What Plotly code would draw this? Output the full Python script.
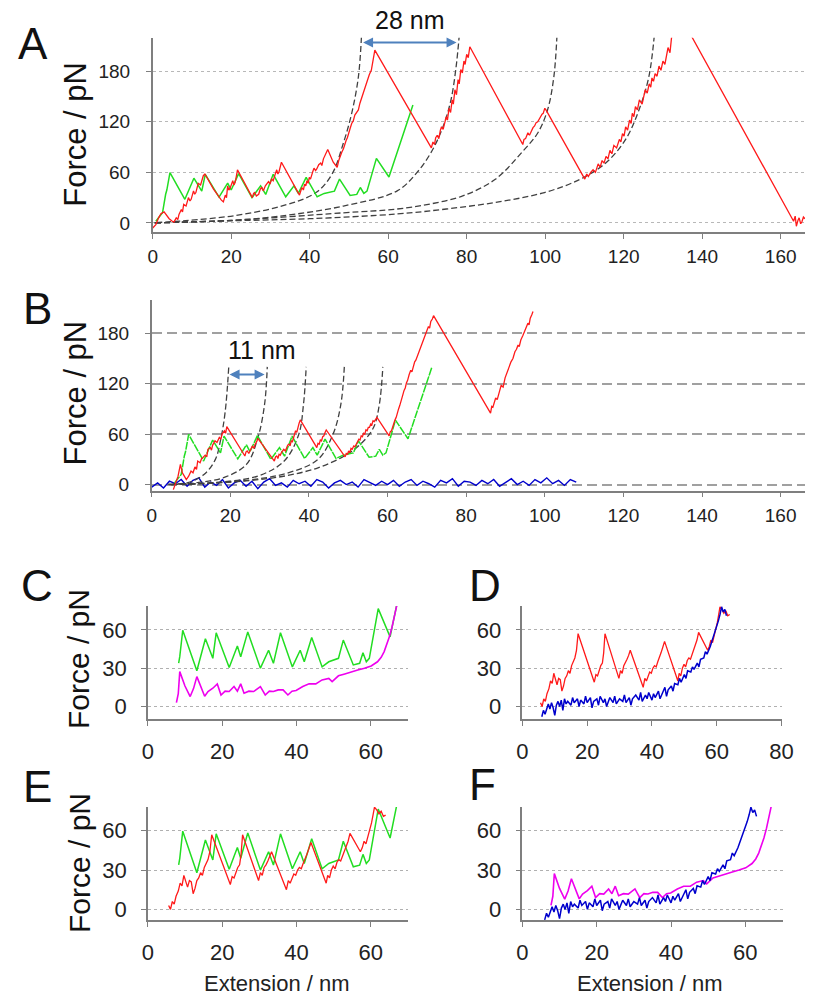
import plotly.graph_objects as go

W, H = 817, 1002

# ---------------- Panel A ----------------
redA_x = [0, 0.8, 1.5, 2.1, 2.9, 3.5, 4.2, 5.0, 5.4, 6.0, 6.4, 6.7, 7.3, 7.6, 7.9, 8.5, 9.1, 9.5, 9.8, 10.4, 10.7,
          11.0, 11.6, 12.2, 12.5, 12.9, 13.3,
          15.5, 17.5, 18.0, 18.5, 18.8, 19.1, 19.4, 19.7, 20.1, 20.4, 20.7, 21.0, 21.3, 21.6,
          25.4, 25.7, 26.0, 26.4, 27.0, 27.4, 27.8, 28.2, 28.7, 29.1, 29.5, 29.9, 30.3, 30.7, 31.0, 31.3, 31.6, 31.9,
          32.2, 32.5, 32.8,
          37.4, 37.7, 38.0, 38.4, 38.7, 39.0, 39.3, 39.6, 39.9, 40.2, 40.5, 40.8, 41.1, 41.5, 41.8, 42.3, 42.8, 43.1,
          43.5, 43.9, 44.3, 44.6,
          46.0, 47.0, 47.4, 47.8, 48.2, 48.6, 48.9, 49.3, 49.6, 49.9, 50.3, 50.7, 51.1, 51.5, 52.0, 52.4, 52.8, 53.2,
          53.6, 54.0, 54.4, 54.8, 55.2, 55.7, 55.9, 56.2, 56.6,
          71.0, 71.4, 71.8, 72.1, 72.5, 72.9, 73.3, 73.6, 74.0, 74.4, 74.8, 75.1, 75.5, 75.9, 76.3, 76.6, 77.0, 77.4,
          77.8, 78.1, 78.5, 78.9, 79.3, 79.6, 80.0, 80.4, 80.8,
          94.3, 94.6, 95.0, 95.3, 95.6, 96.0, 96.5, 96.9, 97.3, 97.7, 98.1, 98.5, 98.9, 99.2, 99.5, 99.9, 100.2,
          110.1, 110.6, 111.0, 111.6, 112.2, 112.8, 113.5, 114.0, 114.5, 115.0, 115.5, 116.0, 116.5, 117.0, 117.5,
          118.2, 118.9, 119.3, 119.7, 120.1, 120.5, 121.0, 121.5, 121.9, 122.2, 122.6, 123.0, 123.5, 124.0, 124.7,
          125.5, 126.0, 126.5, 126.9, 127.2, 127.6, 128.0, 128.5, 129.0, 129.5, 130.0, 130.5, 130.9, 131.3, 131.8,
          132.2, 134.5,
          163.3, 163.7, 164.0, 164.4, 164.7, 165.1, 165.4, 165.8, 166.2]
redA_y = [-6, -2, 6, 11, 13, 9, 5, 2, 1, 6, 4, 10, 16, 13, 22, 20, 30, 26, 28, 38, 34,
          36, 47, 45, 51, 56, 58,
          40, 27, 25, 33, 30, 44, 39, 41, 47, 50, 45, 48, 55, 63,
          30, 35, 36, 32, 34, 40, 42, 38, 44, 47, 49, 46, 52, 50, 56, 59, 63, 58,
          61, 66, 72,
          33, 38, 42, 39, 46, 44, 50, 47, 54, 52, 58, 61, 65, 62, 64, 69, 71, 68,
          76, 80, 85, 87,
          72, 66, 74, 80, 84, 88, 93, 98, 101, 107, 112, 118, 121, 128, 131, 134, 142, 148,
          152, 158, 165, 170, 176, 181, 186, 192, 205,
          89, 96, 93, 101, 104, 100, 110, 114, 111, 119, 126, 122, 136, 131, 146, 141, 158, 152,
          170, 165, 182, 178, 192, 188, 200, 196, 209,
          93, 99, 100, 105, 107, 104, 110, 113, 115, 119, 120, 124, 126, 129, 130, 136, 134,
          52, 58, 55, 60, 63, 60, 70, 66, 74, 71, 79, 76, 86, 82, 92,
          89, 99, 96, 106, 103, 114, 110, 122, 118, 130, 126, 138, 134, 146, 141,
          158, 154, 165, 161, 172, 168, 177, 174, 186, 181, 192, 188, 197, 208, 202,
          220, 245,
          2, 8, -4, 3, 6, -1, 1, 7, 5]

# green trace (shared by B, C, E; shifted in A)
green_start_x = [5.8, 7.5]
green_start_y = [2, 12]
green_x = [8.3, 8.6, 9.4, 13.2, 15.5, 17.5, 18.4, 21.9, 24.1, 25.0, 26.9, 30.3, 32.5, 33.8, 35.7, 38.9, 41.0,
           42.1, 44.1, 46.9, 48.7, 51.3, 52.6, 55.3, 57.0, 57.9, 58.8, 59.6, 62.0, 65.2, 71.3]
green_y = [34, 39, 59.7, 28, 53, 37.7, 57.7, 30.6, 47.3, 39, 58.4, 30, 44, 33.8, 57.7, 31, 44,
           35, 54, 31, 35, 37.7, 52, 32.5, 33.8, 42, 35, 37.7, 76.6, 54.5, 140]
greenA_offset = 5.0

wlcA1_x = [0.8, 8.3, 20.8, 33.2, 41.6, 45.7, 48.6, 50.7, 52.4, 53.2]
wlcA1_y = [0.3, 2.7, 8.6, 20.4, 36, 58, 95, 130, 173, 222]
wlcA2_x = [0.5, 20, 32, 48.6, 62.3, 67.3, 71.1, 74.0, 76.0, 77.3, 78.1]
wlcA2_y = [0, 3, 7.8, 20, 38, 59.6, 85, 114.5, 146, 185, 222]
wlcA3_x = [0.5, 20, 48.6, 62.3, 70.7, 79.0, 87.3, 94.3, 98.1, 100.6, 102.2, 103.0]
wlcA3_y = [0, 3, 12, 16.5, 22.4, 32, 51.8, 85, 106.7, 134, 173, 222]
wlcA4_x = [0.5, 20, 40, 62.3, 74.8, 87.3, 99.8, 108.9, 115.5, 120.5, 123.9, 126.4, 127.8]
wlcA4_y = [0, 2.5, 5, 10.6, 16.5, 24.3, 36, 51.8, 71.4, 99, 134, 173, 222]

# ---------------- Panel B ----------------
redB_x = [5.5, 6.2, 6.7, 7.3, 7.8, 8.3, 8.8, 9.4, 10.0, 10.5, 11.0, 11.4, 11.7, 12.3, 12.7, 13.0, 13.6, 14.0, 14.3,
          14.9, 15.2, 15.5, 16.1, 16.6, 17.2, 17.6, 17.9, 18.5, 18.8, 19.1,
          23.7, 24.0, 24.3, 24.7, 25.0, 25.3, 25.6, 26.0, 26.3, 26.7, 27.0,
          31.2, 31.5, 31.8, 32.1, 32.4, 32.7, 33.0, 33.3, 33.6, 34.0, 34.3, 34.6, 34.9, 35.2, 35.5, 35.8, 36.1,
          36.4, 36.6, 36.9, 37.2, 37.5, 37.8,
          42.0, 42.3, 42.6, 42.9, 43.2, 43.5, 43.8, 44.1, 44.4,
          49.2, 49.5, 49.8, 50.1, 50.4, 50.7, 51.0, 51.4, 51.7, 52.0, 52.3, 52.7, 53.0, 53.3, 53.6, 53.9, 54.2,
          54.5, 54.8, 55.1, 55.4, 55.7, 56.0, 56.3, 56.6, 57.0, 57.3,
          60.4, 60.7, 61.0, 61.3, 61.6, 61.9, 62.2, 62.5, 62.8, 63.1, 63.4, 63.6, 63.9, 64.2, 64.5, 64.8, 65.1,
          65.5, 65.9, 66.2, 66.5, 66.9, 67.2, 67.5, 67.8, 68.2, 68.5, 68.9, 69.2, 69.5, 69.8, 70.1, 70.4, 70.7,
          71.0, 71.4, 71.7,
          86.2, 86.5, 86.8, 87.2, 87.5, 87.9, 88.2, 88.6, 88.9, 89.4, 89.9, 90.2, 90.6, 91.0, 91.4, 91.9, 92.4,
          92.8, 93.2, 93.5, 93.9, 94.4, 94.9, 95.3, 95.7, 96.0, 96.3, 96.7, 97.0]
redB_y = [-6, 4, 10, 24, 14, 10, 6, 10, 16, 14, 21, 18, 28, 26, 31, 32, 35, 33, 42,
          44, 41, 47, 52, 50, 56, 54, 60, 64, 61, 69,
          34, 39, 40, 37, 40, 44, 46, 43, 48, 51, 55,
          28, 33, 34, 31, 36, 35, 38, 41, 42, 40, 44, 47, 48, 46, 52, 51, 56,
          60, 64, 62, 70, 73, 77,
          44, 49, 48, 53, 52, 57, 58, 62, 65,
          33, 37, 36, 40, 38, 43, 42, 46, 45, 48, 50, 54, 53, 58, 57, 61, 60,
          65, 64, 68, 68, 72, 71, 76, 75, 79, 80,
          58, 63, 64, 69, 72, 77, 80, 86, 90, 94, 98, 103, 107, 112, 115, 121, 124,
          131, 136, 134, 140, 146, 148, 152, 156, 161, 164, 169, 172, 176, 180, 184, 188, 186,
          194, 197, 201,
          85, 93, 92, 99, 103, 101, 108, 113, 118, 116, 127, 131, 134, 141, 146, 150, 158,
          161, 166, 164, 172, 177, 182, 186, 192, 190, 198, 202, 206]

blueB_x = [0, 1.5, 3, 4.5, 6, 7.5, 9, 10.5, 12, 13.5, 15, 16.5, 18, 19.5, 21, 22.5, 24, 25.5, 27, 28.5, 30,
           31.5, 33, 34.5, 36, 37.5, 39, 40.5, 42, 43.5, 45, 46.5, 48, 49.5, 51, 52.5, 54, 55.5, 57, 58.5, 60,
           61.5, 63, 64.5, 66, 67.5, 69, 70.5, 72, 73.5, 75, 76.5, 78, 79.5, 81, 82.5, 84, 85.5, 87, 88.5, 90,
           91.5, 93, 94.5, 96, 97.5, 99, 100.5, 102, 103.5, 105, 106.5, 108]
blueB_y = [-3, 2, -4, 4, 1, 6, -2, 5, 8, -3, 3, -1, 6, -4, 2, 5, -2, 4, -5, 3, 7,
           -1, 2, -3, 5, 1, 4, -2, 6, 3, -4, 2, 5, 0, 3, -3, 6, 2, -1, 4, 0,
           5, -2, 3, 6, -1, 4, 1, -3, 5, 2, 7, -2, 4, 3, -1, 5, 1, 6, -2, 3,
           7, 0, 4, -1, 6, 2, 8, 1, 5, -1, 6, 3]

wlcB1_x = [4.2, 9.2, 13.3, 16.2, 17.6, 18.7, 19.6]
wlcB1_y = [0.4, 2.4, 12, 30, 55, 87, 140]
wlcB2_x = [4.5, 11.7, 18.3, 24.1, 27.0, 28.7, 29.4]
wlcB2_y = [0, 2.4, 8.3, 24, 55.7, 95, 140]
wlcB3_x = [5, 16.3, 27.1, 33.7, 37.4, 38.6, 39.3]
wlcB3_y = [0, 2.4, 10.3, 28, 59.6, 95, 140]
wlcB4_x = [5, 11.7, 24.1, 34.9, 42.3, 46.1, 48.1, 49.0]
wlcB4_y = [0, 1, 5, 14.2, 30, 59.6, 95, 140]
wlcB5_x = [5, 11.7, 24.1, 34.0, 42.3, 49.0, 53.1, 56.4, 57.9, 58.8]
wlcB5_y = [0, 1, 4.4, 10.3, 20, 34, 48, 67.5, 95, 140]

# ---------------- Panels C-F ----------------
pink_x = [7.7, 8.2, 8.6, 10.0, 11.4, 12.3, 13.2, 14.5, 15.3, 16.2, 17.5, 18.7, 19.7, 20.8, 21.9, 23.2, 24.1, 25.0,
          25.9, 27.2, 28.5, 30.3, 31.6, 32.7, 33.8, 35.1, 36.4, 37.7, 38.8, 39.9, 41.7, 43.4, 45.2, 46.9,
          48.7, 49.6, 51.3, 53.0, 54.8, 56.5, 58.3, 60.1, 61.8, 62.8, 63.6, 64.3, 65.0, 65.7, 66.2, 67.1]
pink_y = [3, 10, 27.3, 16, 7.8, 14, 23.4, 13, 8, 11.7, 14.3, 17.7, 9, 12, 11.7, 15.6, 12, 17.7,
          10.4, 12, 11.7, 15.6, 9, 12, 11.7, 13, 13, 9, 12, 12.5, 15.6, 17.7, 17.7, 20.8,
          22, 19.5, 24, 25.5, 27.3, 28.5, 30, 31.7, 35, 38.5, 43, 48, 54.5, 62, 70, 80.5]

redD_x = [5.6, 6.1, 6.6, 7.1, 7.6, 8.2, 8.7, 9.2, 9.7, 10.2, 10.7, 11.2, 11.7, 12.2, 12.7, 13.2, 13.7, 14.2, 14.7,
          15.2, 15.7, 16.2, 16.7, 17.2,
          22.2, 22.7, 23.2, 23.7, 24.2, 24.7, 25.1, 25.5,
          29.8, 30.3, 30.8, 31.3, 31.8, 32.3, 32.8, 33.3,
          37.3, 37.8, 38.3, 38.8, 39.3, 39.8, 40.3, 40.8, 41.3, 41.8, 42.3, 42.8, 43.3, 43.9,
          48.0, 48.4, 48.9, 49.4, 49.9, 50.4, 50.9, 51.4, 51.9, 52.4, 52.9, 53.4, 53.9, 54.4,
          57.2, 57.7, 58.2, 58.7, 59.2, 59.7, 60.2, 60.6, 61.0, 61.6, 62.2, 62.8, 63.4, 64.0]
redD_y = [3, 0, 6, 4, 10, 14, 20, 18, 26, 22, 17, 22, 21, 12, 16, 22, 24, 28, 26,
          32, 35, 38, 44, 57,
          19, 25, 24, 28, 32, 34, 42, 57,
          22, 28, 26, 32, 34, 37, 40, 44,
          15, 22, 20, 24, 27, 26, 30, 32, 31, 35, 38, 42, 46, 51,
          20, 26, 24, 30, 33, 31, 36, 38, 37, 41, 45, 48, 52, 58,
          44, 47, 52, 50, 55, 60, 66, 72, 78, 76, 73, 75, 71, 72]

blueD_x = [6.0, 6.5, 7.0, 7.5, 8.0, 8.5, 9.0, 9.5, 10.0, 10.5, 11.0, 11.5, 12.0, 12.5, 13.0, 13.5, 14.0, 15.0,
           15.5, 16.0, 17.0, 17.5, 18.0, 19.0, 19.5, 20.0, 21.0, 21.5, 22.0, 23.0, 23.5, 24.0, 25.0, 25.5,
           26.0, 27.0, 28.0, 28.5, 29.0, 30.0, 31.0, 31.5, 32.0, 33.0, 33.5, 34.0, 35.0, 36.0, 36.5, 37.0,
           38.0, 38.5, 39.0, 40.0, 40.5, 41.0, 42.0, 42.5, 43.0, 44.0, 44.5, 45.0, 46.0, 46.5, 47.0, 48.0,
           48.5, 49.0, 50.0, 50.5, 51.0, 52.0, 52.5, 53.0, 54.0, 54.5, 55.0, 56.0, 56.5, 57.0, 58.0, 58.5,
           59.0, 59.5, 60.0, 60.5, 61.0, 61.5, 62.0, 62.5, 63.0]
blueD_y = [-8, -3, -6, -1, 2, -2, 3, -1, -7, 1, 4, 0, 5, -3, 6, 2, 4, 1,
           7, 3, 6, 0, 5, 2, 8, 3, 7, -1, 4, 6, 1, 8, 3, 6,
           0, 7, 3, 8, 2, 6, 4, 9, 3, 7, 1, 6, 9, 5, 11, 4,
           9, 6, 11, 5, 10, 7, 12, 6, 9, 15, 8, 13, 16, 12, 18, 17,
           22, 19, 25, 22, 28, 27, 31, 29, 34, 31, 37, 38, 43, 41, 47, 51,
           54, 58, 62, 67, 72, 78, 74, 76, 71]

# tick labels
ticksAB_x = [0, 20, 40, 60, 80, 100, 120, 140, 160]
ticksAB_y = [0, 60, 120, 180]
ticksCF_x = [0, 20, 40, 60]
ticksD_x = [0, 20, 40, 60, 80]
ticksCF_y = [0, 30, 60]

RED = "#ff1a1a"
GREEN = "#22dd22"
BLUE = "#0000cc"
PINK = "#ee00ee"
WLC = "#404040"
ARROW = "#4f81bd"
FONT = "Liberation Sans, Arial, sans-serif"

fig = go.Figure()


def line(x, y, color, axes, width=1.3, dash=None, shape="linear"):
    fig.add_trace(go.Scatter(x=x, y=y, mode="lines", xaxis=axes[0], yaxis=axes[1],
                             line=dict(color=color, width=width, dash=dash, shape=shape),
                             showlegend=False, hoverinfo="skip"))


# Panel A
for cx, cy in [(wlcA1_x, wlcA1_y), (wlcA2_x, wlcA2_y), (wlcA3_x, wlcA3_y), (wlcA4_x, wlcA4_y)]:
    line(cx, cy, WLC, ("x", "y"), width=1.3, dash="6px,3px", shape="spline")
greenA_x = [v - greenA_offset for v in green_start_x + green_x]
line(greenA_x, green_start_y + green_y, GREEN, ("x", "y"), width=1.5)
line(redA_x, redA_y, RED, ("x", "y"), width=1.3)

# Panel B
line(blueB_x, blueB_y, BLUE, ("x2", "y2"), width=1.4)
for cx, cy in [(wlcB1_x, wlcB1_y), (wlcB2_x, wlcB2_y), (wlcB3_x, wlcB3_y), (wlcB4_x, wlcB4_y), (wlcB5_x, wlcB5_y)]:
    line(cx, cy, WLC, ("x2", "y2"), width=1.3, dash="6px,3px", shape="spline")
line(green_start_x + green_x, green_start_y + green_y, GREEN, ("x2", "y2"), width=1.5, dash="8px,1px")
line(redB_x, redB_y, RED, ("x2", "y2"), width=1.3)

# Panel C
line(green_x, green_y, GREEN, ("x3", "y3"), width=1.5)
line(pink_x, pink_y, PINK, ("x3", "y3"), width=1.6)
# Panel D
line(redD_x, redD_y, RED, ("x4", "y4"), width=1.3)
line(blueD_x, blueD_y, BLUE, ("x4", "y4"), width=1.5)
# Panel E
line(green_x, green_y, GREEN, ("x5", "y5"), width=1.5)
line(redD_x, redD_y, RED, ("x5", "y5"), width=1.3)
# Panel F
line(pink_x, pink_y, PINK, ("x6", "y6"), width=1.6)
line(blueD_x, blueD_y, BLUE, ("x6", "y6"), width=1.5)


def px(v):
    return v / W


def py(v):
    return 1 - v / H


def xax(dom, rng, ticks, anchor, size, standoff):
    return dict(domain=[px(dom[0]), px(dom[1])], range=rng, tickvals=ticks, anchor=anchor,
                showline=True, linecolor="#7f7f7f", linewidth=1.5, ticks="outside", ticklen=5,
                tickcolor="#7f7f7f", showgrid=False, zeroline=False, ticklabelstandoff=standoff,
                tickfont=dict(family=FONT, size=size, color="#222"))


def yax(dom, rng, ticks, anchor, size, griddash, gridcolor, standoff, gridwidth=1):
    return dict(domain=[py(dom[1]), py(dom[0])], range=rng, tickvals=ticks, anchor=anchor,
                showline=True, linecolor="#7f7f7f", linewidth=1.5, ticks="outside", ticklen=5,
                tickcolor="#7f7f7f", showgrid=True, gridcolor=gridcolor, griddash=griddash,
                gridwidth=gridwidth, zeroline=False, ticklabelstandoff=standoff,
                tickfont=dict(family=FONT, size=size, color="#222"))


layout = dict(
    width=W, height=H, margin=dict(l=0, r=0, t=0, b=0),
    paper_bgcolor="white", plot_bgcolor="white", showlegend=False,
    xaxis=xax((150, 817), [0, 166.2], ticksAB_x, "y", 19, 2),
    yaxis=yax((38, 233), [-10.6, 219.6], ticksAB_y, "x", 19, "3px,3px", "#b8b8b8", 12),
    xaxis2=xax((149, 817), [0, 166.2], ticksAB_x, "y2", 19, 2),
    yaxis2=yax((302, 493), [-7.1, 219], ticksAB_y, "x2", 19, "10px,5px", "#a0a0a0", 12, 1.5),
    xaxis3=xax((145, 411), [0, 70], ticksCF_x, "y3", 22, 6),
    yaxis3=yax((609, 723), [-10.1, 78.7], ticksCF_y, "x3", 22, "3px,3px", "#b0b0b0", 10),
    xaxis4=xax((528, 793), [0, 80], ticksD_x, "y4", 22, 6),
    yaxis4=yax((609, 723), [-10.1, 78.7], ticksCF_y, "x4", 22, "3px,3px", "#b0b0b0", 10),
    xaxis5=xax((145, 411), [0, 70], ticksCF_x, "y5", 22, 6),
    yaxis5=yax((811, 925), [-8.4, 78.2], ticksCF_y, "x5", 22, "3px,3px", "#b0b0b0", 10),
    xaxis6=xax((528, 794), [0, 70], ticksCF_x, "y6", 22, 6),
    yaxis6=yax((811, 925), [-8.4, 78.2], ticksCF_y, "x6", 22, "3px,3px", "#b0b0b0", 10),
)
fig.update_layout(**layout)

ann = []
# panel letters
for letter, lx, ly in [("A", 28, 44), ("B", 32, 310), ("C", 32, 588), ("D", 490, 588), ("E", 32, 790), ("F", 487, 788)]:
    ann.append(dict(text=letter, x=px(lx), y=py(ly), xref="paper", yref="paper", showarrow=False,
                    xanchor="center", yanchor="middle", font=dict(family=FONT, size=44, color="#111")))
# y titles
for tx, ty, sz in [(71, 135, 31), (71, 395, 31), (74, 662, 30), (75, 867, 30)]:
    ann.append(dict(text="Force / pN", x=px(tx), y=py(ty), xref="paper", yref="paper", showarrow=False,
                    textangle=-90, xanchor="center", yanchor="middle", font=dict(family=FONT, size=sz, color="#111")))
# x titles
for tx in [277, 659]:
    ann.append(dict(text="Extension / nm", x=px(tx), y=py(988), xref="paper", yref="paper", showarrow=False,
                    xanchor="center", yanchor="middle", font=dict(family=FONT, size=22, color="#222")))
# distance labels
ann.append(dict(text="28 nm", x=px(413), y=py(20), xref="paper", yref="paper", showarrow=False,
                xanchor="center", yanchor="middle", font=dict(family=FONT, size=25, color="#111")))
ann.append(dict(text="11 nm", x=px(262), y=py(352), xref="paper", yref="paper", showarrow=False,
                xanchor="center", yanchor="middle", font=dict(family=FONT, size=25, color="#111")))
# arrows
ann.append(dict(text="", x=53.6, y=214, ax=77.8, ay=214, xref="x", yref="y", axref="x", ayref="y",
                showarrow=True, arrowhead=2, arrowside="end+start", arrowwidth=2, arrowsize=1, arrowcolor=ARROW))
ann.append(dict(text="", x=19.8, y=131, ax=29.1, ay=131, xref="x2", yref="y2", axref="x2", ayref="y2",
                showarrow=True, arrowhead=2, arrowside="end+start", arrowwidth=2, arrowsize=1, arrowcolor=ARROW))
fig.update_layout(annotations=ann)

fig.write_html("out.html", config={"displayModeBar": False},
               post_script="document.body.style.margin='0';document.body.style.overflow='hidden';")
